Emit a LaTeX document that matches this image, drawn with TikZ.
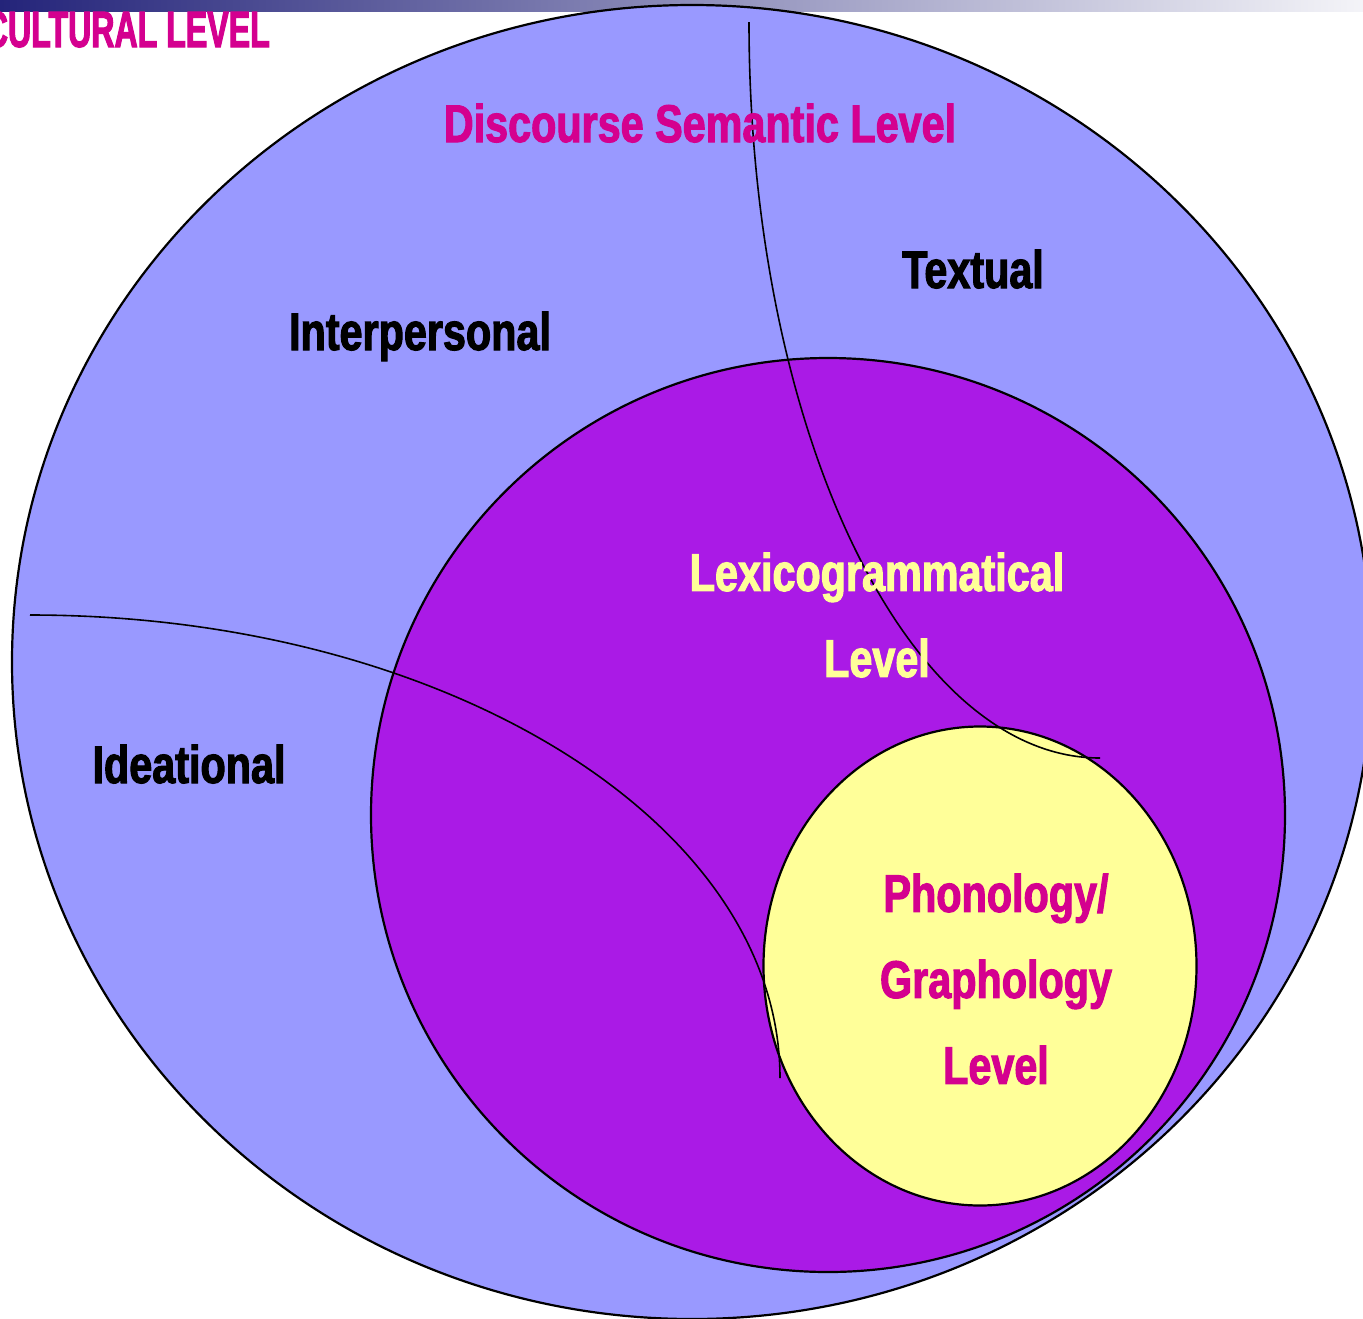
\documentclass[tikz,border=0pt]{standalone}
\usepackage{fontspec}
\newfontfamily\levelfont[FakeStretch=0.78,FakeBold=2]{Liberation Sans Bold}
\newfontfamily\capsfont[FakeStretch=0.63,FakeBold=2]{Liberation Sans Bold}
\definecolor{discblue}{HTML}{9999FF}
\definecolor{lexpurple}{HTML}{AA1AE6}
\definecolor{phonyellow}{HTML}{FFFF99}
\definecolor{levelmagenta}{HTML}{D4008F}
\definecolor{barnavy}{HTML}{24247A}
\definecolor{barwhite}{HTML}{F4F4F8}

\begin{document}
\begin{tikzpicture}[x=1pt,y=-1pt,
    lbl/.style={font=\levelfont\fontsize{53}{86}\selectfont,inner sep=0pt,align=center},
    ring/.style={line width=2.2pt},
    divide/.style={line width=1.6pt}]
  \useasboundingbox (0,0) rectangle (1363,1318);

  %title bar
  \shade[left color=barnavy,right color=barwhite] (0,0) rectangle (1363,11);

  %levels
  \filldraw[ring,fill=discblue] (692,662) ellipse[x radius=680,y radius=657];
  \filldraw[ring,fill=lexpurple] (828,815) circle[radius=457];
  \filldraw[ring,fill=phonyellow] (980,966) ellipse[x radius=216.5,y radius=239.5];

  %metafunction borders
  \coordinate (txtTop) at (749,22);
  \coordinate (txtEnd) at (1100,758);
  \coordinate (ideaLeft) at (30,615);
  \coordinate (ideaEnd) at (780,1078);
  \draw[divide] (txtTop) .. controls +(0,406) and +(-194,0) .. (txtEnd);
  \draw[divide] (ideaLeft) .. controls +(414,0) and +(0,-256) .. (ideaEnd);

  %labels
  \node[font=\capsfont\fontsize{51}{60}\selectfont,text=levelmagenta,inner sep=0pt,anchor=base east] (cult) at (270,47) {CULTURAL LEVEL};
  \node[lbl,text=levelmagenta,anchor=base] (disc) at (700,142) {Discourse Semantic Level};
  \node[lbl,anchor=base] (inter) at (420,350) {Interpersonal};
  \node[lbl,anchor=base] (textual) at (973,288) {Textual};
  \node[lbl,anchor=base] (idea) at (189,783) {Ideational};
  \node[lbl,text=phonyellow] (lexi) at (877,615) {Lexicogrammatical\\Level};
  \node[lbl,text=levelmagenta] (phon) at (996,979) {Phonology/\\Graphology\\Level};
\end{tikzpicture}
\end{document}
